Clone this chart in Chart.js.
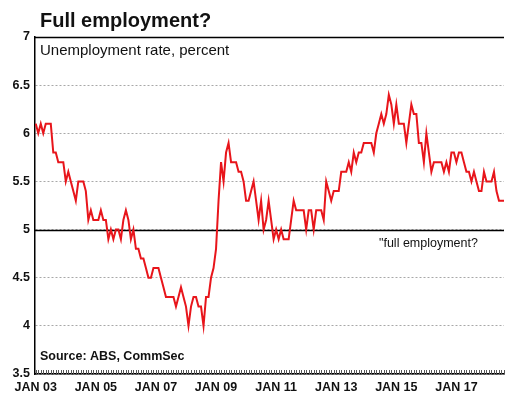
<!DOCTYPE html>
<html>
<head>
<meta charset="utf-8">
<script src="https://cdn.jsdelivr.net/npm/chart.js@4/dist/chart.umd.min.js"></script>
<style>
  html, body { margin: 0; padding: 0; background: #fff; }
  #wrap { width: 505px; height: 394px; position: relative; }
</style>
</head>
<body>
<div id="wrap"><canvas id="chart" width="505" height="394"></canvas></div>
<script>
// Monthly unemployment rate (%), January 2003 onwards
const startYear = 2003;
const unemploymentRate = [
  6.1, 6.0, 6.1, 6.0, 6.1, 6.1, 6.1, 5.8, 5.8, 5.7, 5.7, 5.7, // 2003
  5.5, 5.6, 5.5, 5.4, 5.3, 5.5, 5.5, 5.5, 5.4, 5.1, 5.2, 5.1, // 2004
  5.1, 5.1, 5.2, 5.1, 5.1, 4.9, 5.0, 4.9, 5.0, 5.0, 4.9, 5.1, // 2005
  5.2, 5.1, 4.9, 5.0, 4.8, 4.8, 4.7, 4.7, 4.6, 4.5, 4.5, 4.6, // 2006
  4.6, 4.6, 4.5, 4.4, 4.3, 4.3, 4.3, 4.3, 4.2, 4.3, 4.4, 4.3, // 2007
  4.2, 4.0, 4.2, 4.3, 4.3, 4.2, 4.2, 4.0, 4.3, 4.3, 4.5, 4.6, // 2008
  4.8, 5.3, 5.7, 5.5, 5.8, 5.9, 5.7, 5.7, 5.7, 5.6, 5.6, 5.5, // 2009
  5.3, 5.3, 5.4, 5.5, 5.3, 5.1, 5.3, 5.0, 5.1, 5.3, 5.1, 4.9, // 2010
  5.0, 4.9, 5.0, 4.9, 4.9, 4.9, 5.1, 5.3, 5.2, 5.2, 5.2, 5.2, // 2011
  5.0, 5.2, 5.2, 5.0, 5.2, 5.2, 5.2, 5.1, 5.5, 5.4, 5.3, 5.4, // 2012
  5.4, 5.4, 5.6, 5.6, 5.6, 5.7, 5.6, 5.8, 5.7, 5.8, 5.8, 5.9, // 2013
  5.9, 5.9, 5.9, 5.8, 6.0, 6.1, 6.2, 6.1, 6.2, 6.4, 6.3, 6.1, // 2014
  6.3, 6.1, 6.1, 6.1, 5.9, 6.1, 6.3, 6.2, 6.2, 5.9, 5.9, 5.7, // 2015
  6.0, 5.8, 5.6, 5.7, 5.7, 5.7, 5.7, 5.6, 5.7, 5.6, 5.8, 5.8, // 2016
  5.7, 5.8, 5.8, 5.7, 5.6, 5.6, 5.5, 5.6, 5.5, 5.4, 5.4, 5.6, // 2017
  5.5, 5.5, 5.5, 5.6, 5.4, 5.3, 5.3, 5.3                      // 2018
];
const xTickMonths = [0, 24, 48, 72, 96, 120, 144, 168];
const xTickLabels = ['JAN 03', 'JAN 05', 'JAN 07', 'JAN 09', 'JAN 11', 'JAN 13', 'JAN 15', 'JAN 17'];
const yMin = 3.5, yMax = 7, yStep = 0.5;
const fullEmploymentLevel = 5.0;

const titleText = 'Full employment?';
const unitText = 'Unemployment rate, percent';
const sourceText = 'Source: ABS, CommSec';
const markerText = '"full employment?';

const FONT = "'Liberation Sans', Arial, Helvetica, sans-serif";

const points = unemploymentRate.map((v, i) => ({ x: i, y: v }));

function hline(ctx, x1, x2, y) {
  ctx.beginPath(); ctx.moveTo(x1, y); ctx.lineTo(x2, y); ctx.stroke();
}

const decorations = {
  id: 'decorations',
  beforeDatasetsDraw(chart) {
    const { ctx, chartArea: a, scales: { x, y } } = chart;
    ctx.save();
    ctx.strokeStyle = '#000';
    ctx.lineWidth = 1.3;
    // frame top and the "full employment" reference line
    hline(ctx, a.left, a.right, Math.round(y.getPixelForValue(yMax)) + 0.5);
    hline(ctx, a.left, a.right, Math.round(y.getPixelForValue(fullEmploymentLevel)) + 0.5);
    // monthly tick marks along the time axis
    ctx.lineWidth = 1;
    ctx.strokeStyle = '#555';
    for (let i = 0; i < unemploymentRate.length; i++) {
      const px = Math.round(x.getPixelForValue(i)) + 0.5;
      ctx.beginPath(); ctx.moveTo(px, a.bottom - 4); ctx.lineTo(px, a.bottom); ctx.stroke();
    }
    ctx.restore();
  },
  afterDraw(chart) {
    const { ctx, scales: { y } } = chart;
    ctx.save();
    ctx.fillStyle = '#111';
    ctx.textBaseline = 'alphabetic';
    ctx.textAlign = 'left';
    ctx.font = 'bold 20px ' + FONT;
    ctx.fillText(titleText, 40, 27);
    ctx.font = '15px ' + FONT;
    ctx.fillText(unitText, 40, 55);
    ctx.font = 'bold 12.5px ' + FONT;
    ctx.fillText(sourceText, 40, 360);
    ctx.font = '12.5px ' + FONT;
    ctx.fillText(markerText, 379, Math.round(y.getPixelForValue(fullEmploymentLevel)) + 17);
    ctx.restore();
  }
};

new Chart(document.getElementById('chart'), {
  type: 'line',
  data: {
    datasets: [{
      data: points,
      borderColor: '#e8151b',
      borderWidth: 2,
      pointRadius: 0,
      tension: 0,
      fill: false
    }]
  },
  options: {
    responsive: false,
    animation: false,
    layout: { padding: { top: 37, right: 1, left: 0, bottom: 0 } },
    plugins: { legend: { display: false }, tooltip: { enabled: false }, title: { display: false } },
    scales: {
      x: {
        type: 'linear',
        min: -0.3,
        max: unemploymentRate.length - 1,
        afterBuildTicks: (scale) => { scale.ticks = xTickMonths.map(v => ({ value: v })); },
        afterFit: (scale) => { scale.height = 20; },
        grid: { display: false, drawTicks: false },
        border: { display: true, color: '#000', width: 1.5 },
        ticks: {
          autoSkip: false,
          maxRotation: 0,
          padding: 6,
          color: '#111',
          font: { family: FONT, size: 12.5, weight: 'bold' },
          callback: (value) => xTickLabels[xTickMonths.indexOf(value)]
        }
      },
      y: {
        min: yMin,
        max: yMax,
        afterFit: (scale) => { scale.width = 35; },
        grid: { color: '#a8a8a8', lineWidth: 1, drawTicks: false },
        border: { display: true, color: '#000', width: 1.5, dash: [2, 2] },
        ticks: {
          stepSize: yStep,
          padding: 5,
          color: '#111',
          font: { family: FONT, size: 12.5, weight: 'bold' },
          callback: (value) => String(Math.round(value * 10) / 10)
        }
      }
    }
  },
  plugins: [decorations]
});
</script>
</body>
</html>
